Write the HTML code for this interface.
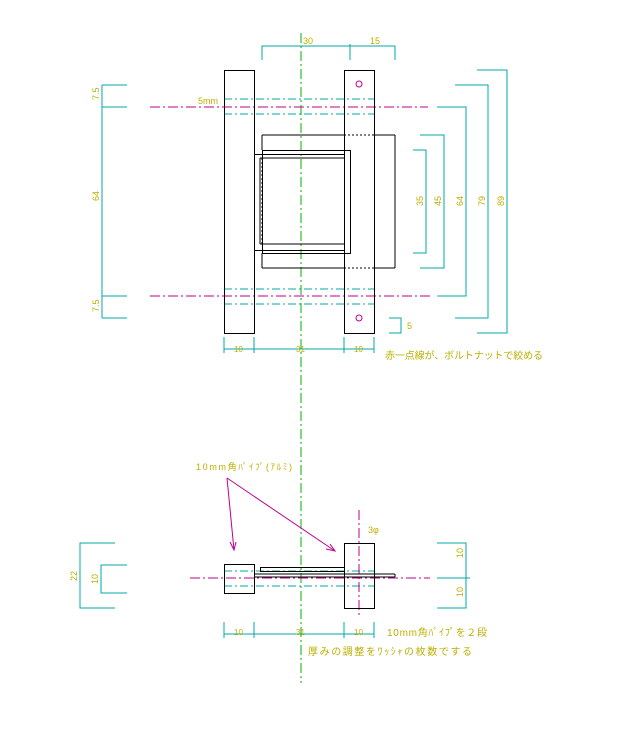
<!DOCTYPE html>
<html><head><meta charset="utf-8"><style>html,body{margin:0;padding:0;background:#fff;width:618px;height:735px;overflow:hidden}</style></head><body>
<svg width="618" height="735" xmlns="http://www.w3.org/2000/svg" font-family="Liberation Sans, Noto Sans CJK JP, sans-serif" font-size="9" fill="none">
<g stroke="#00a8a8" stroke-width="1">
<polyline points="262,60 262,46 395,46 395,60"/><line x1="350" y1="44" x2="350" y2="60"/>
<line x1="102" y1="85" x2="102" y2="318"/>
<line x1="102" y1="85" x2="127" y2="85"/><line x1="102" y1="107" x2="127" y2="107"/>
<line x1="102" y1="296" x2="127" y2="296"/><line x1="102" y1="318" x2="127" y2="318"/>
<polyline points="413,150 426,150 426,253 413,253"/>
<polyline points="420,135 444,135 444,268 420,268"/>
<polyline points="437,107 466,107 466,296 437,296"/>
<polyline points="455,85 488,85 488,318 455,318"/>
<polyline points="477,70 507,70 507,333 477,333"/>
<polyline points="389,318 401,318 401,333 389,333"/>
<line x1="224" y1="337" x2="224" y2="353"/><line x1="254" y1="337" x2="254" y2="353"/>
<line x1="344" y1="337" x2="344" y2="353"/><line x1="374" y1="337" x2="374" y2="353"/>
<line x1="224" y1="349" x2="374" y2="349"/>
<g stroke-dasharray="8,3,2,3">
<line x1="224" y1="99" x2="374" y2="99"/><line x1="224" y1="114" x2="374" y2="114"/>
<line x1="224" y1="289" x2="374" y2="289"/><line x1="224" y1="304" x2="374" y2="304"/>
<line x1="224" y1="571" x2="374" y2="571"/><line x1="224" y1="586" x2="374" y2="586"/>
</g>
<polyline points="115,543 80,543 80,608 115,608"/>
<polyline points="127,565 101,565 101,593 127,593"/>
<polyline points="437,543 466,543 466,608 437,608"/><line x1="437" y1="578" x2="470" y2="578"/>
<line x1="224" y1="622" x2="224" y2="638"/><line x1="254" y1="622" x2="254" y2="638"/>
<line x1="344" y1="622" x2="344" y2="638"/><line x1="374" y1="622" x2="374" y2="638"/>
<line x1="224" y1="634" x2="374" y2="634"/>
</g>
<line x1="301" y1="33" x2="301" y2="683" stroke="#00b000" stroke-dasharray="10,3,2,3"/>
<g stroke="#c0008a" stroke-dasharray="10,3,2,3">
<line x1="150" y1="107" x2="428" y2="107"/><line x1="150" y1="296" x2="430" y2="296"/>
<line x1="190" y1="578" x2="430" y2="578"/>
<line x1="359" y1="510" x2="359" y2="615"/>
</g>
<g stroke="#c0008a" fill="none">
<circle cx="359" cy="84" r="3"/><circle cx="359" cy="318" r="3"/>
<line x1="227" y1="478" x2="234" y2="550"/><polyline points="230,542 234,550 236,542"/>
<line x1="227" y1="478" x2="335" y2="551"/><polyline points="326,549 335,551 330,544"/>
</g>
<g stroke="#000" stroke-width="1">
<rect x="224.5" y="70.5" width="30" height="263"/>
<rect x="344.5" y="70.5" width="30" height="263"/>
<line x1="262" y1="135" x2="344" y2="135"/><line x1="374" y1="135" x2="395" y2="135"/>
<line x1="395" y1="135" x2="395" y2="268"/>
<line x1="262" y1="268" x2="344" y2="268"/><line x1="374" y1="268" x2="395" y2="268"/>
<line x1="262" y1="135" x2="262" y2="150"/><line x1="262" y1="253" x2="262" y2="268"/>
<rect x="254.5" y="154.5" width="90" height="96"/>
<rect x="262.5" y="150.5" width="88" height="103"/>
<line x1="260" y1="158" x2="344" y2="158"/><line x1="260" y1="244" x2="344" y2="244"/>
<line x1="260" y1="158" x2="260" y2="244"/>
<rect x="224.5" y="564.5" width="30" height="29"/>
<rect x="344.5" y="543.5" width="30" height="65"/>
<rect x="260.5" y="567.5" width="84" height="4"/>
<line x1="254" y1="574" x2="395" y2="574"/><line x1="254" y1="577" x2="395" y2="577"/><line x1="395" y1="574" x2="395" y2="577"/>
<g stroke-dasharray="2,2"><line x1="344" y1="135" x2="374" y2="135"/><line x1="344" y1="268" x2="374" y2="268"/><line x1="262" y1="158" x2="262" y2="244"/></g>
</g>
<g fill="#bcb000" stroke="none">
<text x="303" y="44">30</text><text x="370" y="44">15</text>
<text x="198" y="104">5mm</text>
<text x="234" y="352" font-size="8">10</text><text x="296" y="352" font-size="8">31</text><text x="354" y="352" font-size="8">10</text>
<text x="407" y="329">5</text>
<text x="385" y="359" font-size="10" textLength="158" lengthAdjust="spacing">赤一点線が、ボルトナットで絞める</text>
<g transform="rotate(-90)">
<text x="-100" y="99">7.5</text><text x="-201" y="99">64</text><text x="-312" y="99">7.5</text>
<text x="-206" y="423">35</text><text x="-206" y="441">45</text><text x="-206" y="463">64</text><text x="-206" y="485">79</text><text x="-206" y="504">89</text>
<text x="-581" y="77">22</text><text x="-584" y="98">10</text>
<text x="-558" y="463">10</text><text x="-597" y="463">10</text>
</g>
<text x="196" y="470" textLength="96" lengthAdjust="spacing">10mm角ﾊﾟｲﾌﾟ(ｱﾙﾐ)</text>
<text x="368" y="533">3φ</text>
<text x="234" y="635" font-size="8">10</text><text x="296" y="635" font-size="8">31</text><text x="354" y="635" font-size="8">10</text>
<text x="387" y="636" font-size="10" textLength="100" lengthAdjust="spacing">10mm角ﾊﾟｲﾌﾟを２段</text>
<text x="308" y="655" font-size="10" textLength="164" lengthAdjust="spacing">厚みの調整をﾜｯｼｬの枚数でする</text>
</g>
</svg>
</body></html>
